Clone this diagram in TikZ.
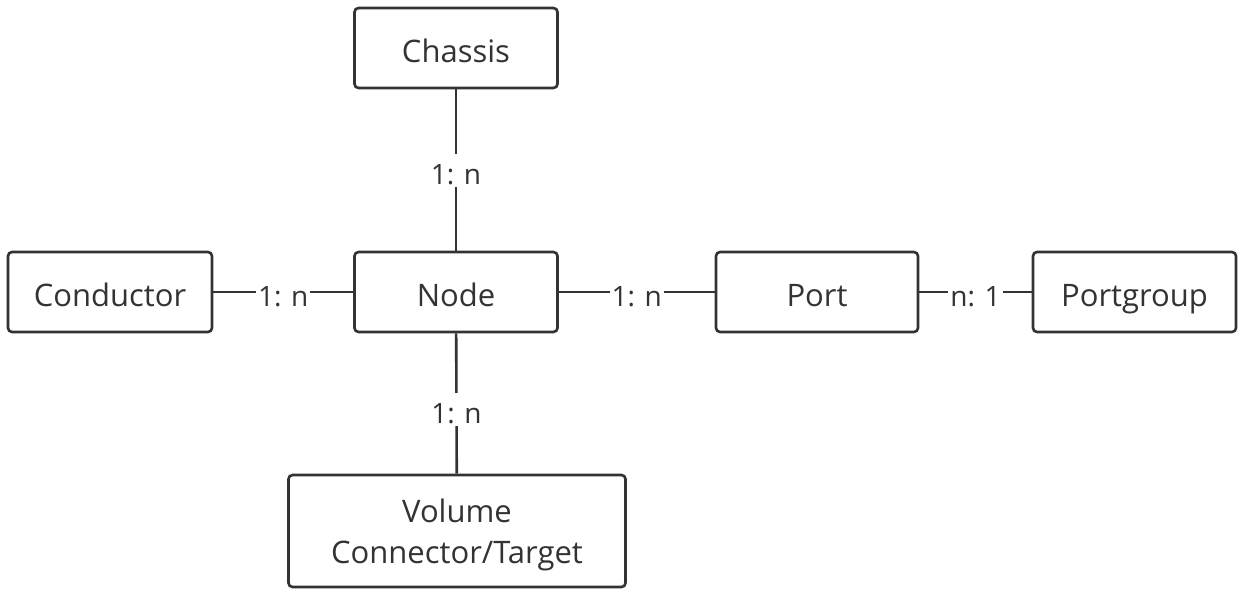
\documentclass[tikz,border=0pt]{standalone}
\usepackage{fontspec}
\setmainfont{Open Sans}
\definecolor{ink}{HTML}{333333}
\begin{document}
\begin{tikzpicture}[x=1pt,y=-1pt,
  ent/.style={draw=ink,line width=2.6pt,rounded corners=4pt,fill=white,text=ink,
    minimum height=80pt,inner sep=0pt,align=center,font=\fontsize{31}{41}\selectfont},
  one/.style={text height=28pt,text depth=0pt},
  rel/.style={fill=white,text=ink,inner sep=2pt,text height=29pt,text depth=0pt,font=\fontsize{28}{34}\selectfont},
  link/.style={draw=ink,line width=2.6pt}]
\useasboundingbox (0,0) rectangle (1238,589);
\node[ent,one,minimum width=203pt] (chassis) at (456,48) {Chassis};
\node[ent,one,minimum width=203pt] (node) at (456,292) {Node};
\node[ent,one,minimum width=204pt] (cond) at (110,292) {Conductor};
\node[ent,one,minimum width=202pt] (port) at (817,292) {Port};
\node[ent,one,minimum width=203pt] (pg) at (1134.5,292) {Portgroup};
\node[ent,minimum width=337pt,minimum height=112pt,text depth=0pt] (vol) at (457,531) {Volume\\Connector/Target};
\draw[link] (chassis) -- node[rel,pos=0.5] {1: n} (node);
\draw[link] (cond) -- node[rel] {1: n} (node);
\draw[link] (node) -- node[rel] {1: n} (port);
\draw[link] (port) -- node[rel] {n: 1} (pg);
\draw[link] (node) -- node[rel,pos=0.54] {1: n} (vol);
\end{tikzpicture}
\end{document}
